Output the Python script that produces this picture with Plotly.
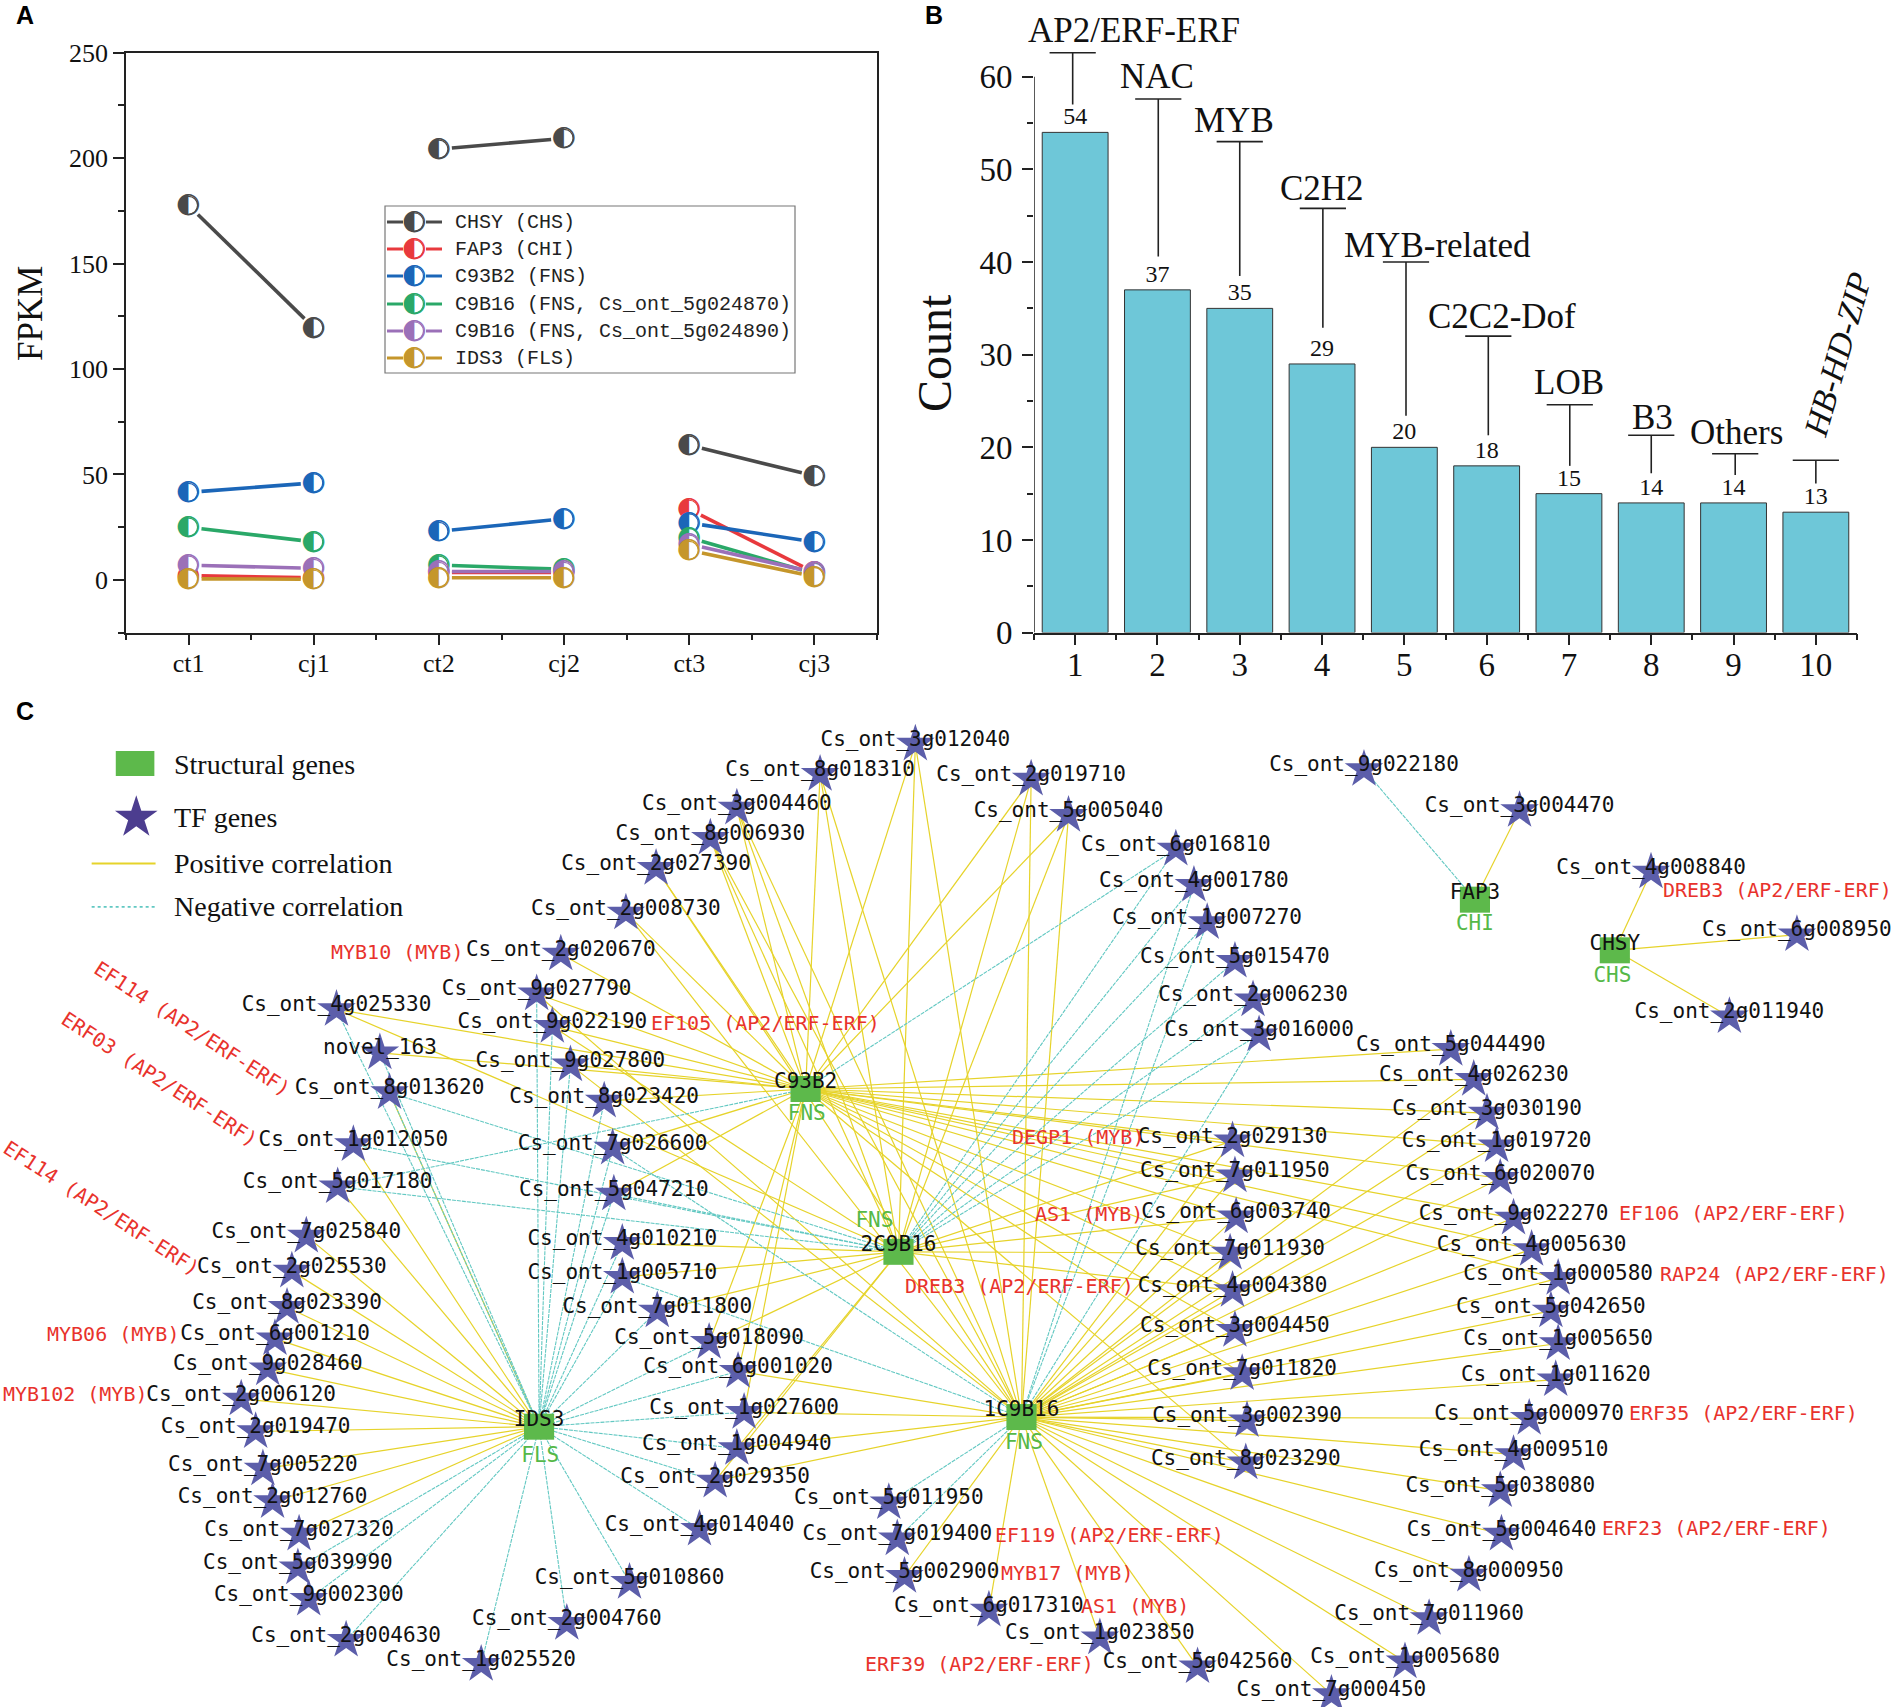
import plotly.graph_objects as go

W, H = 1891, 1707
S = W / 1568.0   # reference pixels per network unit

SERIF = "Liberation Serif"
MONO = "DejaVu Sans Mono"
LEGMONO = "Liberation Mono"

# ---------- Panel A data ----------
samples = ["ct1", "cj1", "ct2", "cj2", "ct3", "cj3"]
series_names = ["CHSY (CHS)", "FAP3 (CHI)", "C93B2 (FNS)", "C9B16 (FNS, Cs_ont_5g024870)",
                "C9B16 (FNS, Cs_ont_5g024890)", "IDS3 (FLS)"]
series_colors = ["#4a4a4a", "#e8393d", "#1b66b8", "#2aa868", "#9b70b8", "#c5962b"]
chsy = [177.6, 119.6, 204.3, 209.4, 63.9, 49.3]
fap3 = [2.0, 1.0, 3.5, 3.5, 33.5, 3.5]
c93b2 = [41.5, 46.0, 23.0, 29.0, 27.0, 18.0]
c9b16a = [25.0, 18.0, 7.0, 5.0, 20.0, 3.0]
c9b16b = [7.0, 5.5, 4.0, 4.0, 17.0, 3.5]
ids3 = [0.5, 0.3, 1.0, 1.0, 14.0, 1.5]
series_vals = [chsy, fap3, c93b2, c9b16a, c9b16b, ids3]

# ---------- Panel B data ----------
tf_rank = [1, 2, 3, 4, 5, 6, 7, 8, 9, 10]
tf_count = [54, 37, 35, 29, 20, 18, 15, 14, 14, 13]
tf_family = ["AP2/ERF-ERF", "NAC", "MYB", "C2H2", "MYB-related", "C2C2-Dof", "LOB", "B3", "Others", "HB-HD-ZIP"]
whisk_x = [0.97, 2.01, 3.0, 4.01, 5.02, 6.02, 7.01, 8.0, 9.02, 10.0]
whisk_top = [62.6, 57.6, 53.0, 45.8, 40.0, 32.0, 24.6, 21.3, 19.3, 18.6]
whisk_bot = [57.0, 40.6, 38.5, 32.9, 23.4, 21.3, 18.0, 17.2, 17.0, 16.1]
family_px = [(1134, 30), (1157, 76), (1234, 120), (1322, 188), (1437, 245), (1502, 316),
             (1569, 382), (1652, 417), (1736, 432), (1837, 355)]

# ---------- Panel C data ----------
hub_names = ["C93B2", "2C9B16", "1C9B16", "IDS3", "FAP3", "CHSY"]
hub_codes = ["C", "2", "1", "I", "F", "H"]
hub_x = [668, 745, 847, 447, 1223, 1339]
hub_y = [903, 1038, 1175, 1183, 746, 788]
hub_cls = ["FNS", "FNS", "FNS", "FLS", "CHI", "CHS"]
hub_cls_x = [669, 725, 849, 448, 1223, 1337]
hub_cls_y = [924, 1013, 1197, 1208, 767, 810]

tf_nodes = [
 ("Cs_ont_3g012040", 759, 617, "C+ 2+ 1+"), ("Cs_ont_8g018310", 680, 642, "C+ 2+ 1+"),
 ("Cs_ont_3g004460", 611, 670, "C+ 2+ 1+"), ("Cs_ont_8g006930", 589, 695, "C+ 2+ 1+"),
 ("Cs_ont_2g027390", 544, 720, "C+ 1+"), ("Cs_ont_2g008730", 519, 757, "C+ 1+"),
 ("Cs_ont_2g020670", 465, 791, "C+"), ("Cs_ont_9g027790", 445, 824, "C+ 1+ I-"),
 ("Cs_ont_9g022190", 458, 851, "C+ 2+ I-"), ("Cs_ont_9g027800", 473, 883, "C+ 1+ I-"),
 ("Cs_ont_8g023420", 501, 913, "C+ I-"), ("Cs_ont_4g025330", 279, 837, "C+ 2+ I-"),
 ("novel_163", 315, 873, "C+ I-"), ("Cs_ont_8g013620", 323, 906, "2- I- I+"),
 ("Cs_ont_1g012050", 293, 949, "2- I+"), ("Cs_ont_5g017180", 280, 984, "C- 2- I+"),
 ("Cs_ont_7g026600", 508, 952, "C+ 1- I-"), ("Cs_ont_5g047210", 509, 990, "C+ 2- I-"),
 ("Cs_ont_4g010210", 516, 1031, "2+ I-"), ("Cs_ont_1g005710", 516, 1059, "2+ 1- I-"),
 ("Cs_ont_7g011800", 545, 1087, "2+ I-"), ("Cs_ont_5g018090", 588, 1113, "C+ 2+ I-"),
 ("Cs_ont_6g001020", 612, 1137, "C+ 1+ I-"), ("Cs_ont_1g027600", 617, 1171, "C+ 1+ I-"),
 ("Cs_ont_1g004940", 611, 1201, "2+ 1+ I-"), ("Cs_ont_2g029350", 593, 1228, "2+ 1+ I-"),
 ("Cs_ont_4g014040", 580, 1268, "I-"), ("Cs_ont_5g010860", 522, 1312, "I-"),
 ("Cs_ont_2g004760", 470, 1346, "I-"), ("Cs_ont_1g025520", 399, 1380, "I-"),
 ("Cs_ont_2g004630", 287, 1360, "I-"), ("Cs_ont_9g002300", 256, 1326, "I-"),
 ("Cs_ont_5g039990", 247, 1300, "I-"), ("Cs_ont_7g027320", 248, 1272, "I+"),
 ("Cs_ont_2g012760", 226, 1245, "I+"), ("Cs_ont_7g005220", 218, 1218, "I+"),
 ("Cs_ont_2g019470", 212, 1187, "I+"), ("Cs_ont_2g006120", 200, 1160, "I+"),
 ("Cs_ont_9g028460", 222, 1135, "I+"), ("Cs_ont_6g001210", 228, 1110, "I+"),
 ("Cs_ont_8g023390", 238, 1084, "I+"), ("Cs_ont_2g025530", 242, 1054, "I+"),
 ("Cs_ont_7g025840", 254, 1025, "I+"),
 ("Cs_ont_2g019710", 855, 646, "C+ 2+ 1+"), ("Cs_ont_5g005040", 886, 676, "C+ 2+ 1+"),
 ("Cs_ont_6g016810", 975, 704, "C- 2-"), ("Cs_ont_4g001780", 990, 734, "2- 1-"),
 ("Cs_ont_1g007270", 1001, 765, "2- 1-"), ("Cs_ont_5g015470", 1024, 797, "2-"),
 ("Cs_ont_2g006230", 1039, 829, "2-"), ("Cs_ont_3g016000", 1044, 858, "2- 1-"),
 ("Cs_ont_5g044490", 1203, 870, "C+"), ("Cs_ont_4g026230", 1222, 895, "C+ 1+"),
 ("Cs_ont_3g030190", 1233, 923, "C+ 1+"), ("Cs_ont_1g019720", 1241, 950, "C+ 1+"),
 ("Cs_ont_6g020070", 1244, 977, "C+ 1+"), ("Cs_ont_9g022270", 1255, 1010, "C+ 1+"),
 ("Cs_ont_4g005630", 1270, 1036, "C+ 1+"), ("Cs_ont_1g000580", 1292, 1060, "C+ 1+"),
 ("Cs_ont_5g042650", 1286, 1087, "1+"), ("Cs_ont_1g005650", 1292, 1114, "1+"),
 ("Cs_ont_1g011620", 1290, 1144, "1+"), ("Cs_ont_5g000970", 1268, 1176, "1+"),
 ("Cs_ont_4g009510", 1255, 1206, "1+"), ("Cs_ont_5g038080", 1244, 1236, "1+"),
 ("Cs_ont_5g004640", 1245, 1272, "1+"), ("Cs_ont_8g000950", 1218, 1306, "1+"),
 ("Cs_ont_7g011960", 1185, 1342, "1+"), ("Cs_ont_1g005680", 1165, 1378, "1+"),
 ("Cs_ont_7g000450", 1104, 1405, "1+"), ("Cs_ont_5g042560", 993, 1382, "1+"),
 ("Cs_ont_1g023850", 912, 1358, "1+"), ("Cs_ont_6g017310", 820, 1335, "1+"),
 ("Cs_ont_5g002900", 750, 1307, "1+"), ("Cs_ont_7g019400", 744, 1276, "1-"),
 ("Cs_ont_5g011950", 737, 1246, "1-"),
 ("Cs_ont_2g029130", 1022, 946, "C+ 2+ 1+"), ("Cs_ont_7g011950", 1024, 975, "C+ 2+ 1+"),
 ("Cs_ont_6g003740", 1025, 1009, "C+ 2+ 1+"), ("Cs_ont_7g011930", 1020, 1039, "C+ 2+ 1+"),
 ("Cs_ont_4g004380", 1022, 1070, "C+ 2+ 1+"), ("Cs_ont_3g004450", 1024, 1103, "C+ 1+"),
 ("Cs_ont_7g011820", 1030, 1139, "C+ 1+"), ("Cs_ont_3g002390", 1034, 1178, "1+"),
 ("Cs_ont_8g023290", 1033, 1213, "C+ 1+"),
 ("Cs_ont_9g022180", 1131, 638, "F-"), ("Cs_ont_3g004470", 1260, 672, "F+"),
 ("Cs_ont_4g008840", 1369, 723, "H+"), ("Cs_ont_6g008950", 1490, 775, "H+"),
 ("Cs_ont_2g011940", 1434, 843, "H+"),
]

red_labels = [
 ("MYB10 (MYB)", 329, 789, 0), ("EF105 (AP2/ERF-ERF)", 635, 848, 0),
 ("EF114 (AP2/ERF-ERF)", 160, 853, 33), ("ERF03 (AP2/ERF-ERF)", 132, 895, 33),
 ("EF114 (AP2/ERF-ERF)", 84, 1002, 33), ("MYB06 (MYB)", 94, 1106, 0),
 ("MYB102 (MYB)", 63, 1156, 0), ("DEGP1 (MYB)", 894, 943, 0), ("AS1 (MYB)", 903, 1007, 0),
 ("DREB3 (AP2/ERF-ERF)", 845, 1066, 0), ("DREB3 (AP2/ERF-ERF)", 1474, 738, 0),
 ("EF106 (AP2/ERF-ERF)", 1437, 1006, 0), ("RAP24 (AP2/ERF-ERF)", 1471, 1056, 0),
 ("ERF35 (AP2/ERF-ERF)", 1446, 1172, 0), ("ERF23 (AP2/ERF-ERF)", 1423, 1267, 0),
 ("EF119 (AP2/ERF-ERF)", 920, 1273, 0), ("MYB17 (MYB)", 885, 1304, 0),
 ("AS1 (MYB)", 941, 1332, 0), ("ERF39 (AP2/ERF-ERF)", 812, 1380, 0),
]

legend_c_labels = ["Structural genes", "TF genes", "Positive correlation", "Negative correlation"]
legend_c_y = [634, 678, 716, 752]

YEL = "#e6d32a"
TEAL = "#62c8c2"
GREEN = "#5db94b"
STAR = "#5c5eaa"
RED = "#e8322c"

fig = go.Figure()
ov = dict(xaxis="x3", yaxis="y3", showlegend=False, hoverinfo="skip")
pa = dict(xaxis="x", yaxis="y", showlegend=False, hoverinfo="skip")
pb = dict(xaxis="x2", yaxis="y2", showlegend=False, hoverinfo="skip")

# ---------- Panel A ----------
AX0, AX1, AY0, AY1 = 126, 877, 632.6, 52.7
px_per_x = (AX1 - AX0) / 6.0
px_per_y = (AY0 - AY1) / 275.0
GAP = 13.0
for vals, col in zip(series_vals, series_colors):
    lx, ly = [], []
    for i in (0, 2, 4):
        dx = px_per_x
        dy = (vals[i + 1] - vals[i]) * px_per_y
        L = (dx * dx + dy * dy) ** 0.5
        f = GAP / L
        lx += [i + 1 + f, i + 2 - f, None]
        ly += [vals[i] + (vals[i + 1] - vals[i]) * f, vals[i + 1] - (vals[i + 1] - vals[i]) * f, None]
    fig.add_trace(go.Scatter(x=lx, y=ly, mode="lines", line=dict(color=col, width=3.6), **pa))
    fig.add_trace(go.Scatter(x=list(range(1, 7)), y=vals, mode="markers+text", text=["◐"] * 6,
                             textposition="middle center",
                             textfont=dict(family="DejaVu Sans", size=28, color=col),
                             marker=dict(symbol="circle", size=18, color="white", line=dict(color=col, width=1.2)),
                             cliponaxis=False, **pa))

# ---------- Panel B ----------
BY_PER = 555.8 / 60.0
BYMAX = 66.0
BTOP = 632.6 - BYMAX * BY_PER
fig.add_trace(go.Bar(x=tf_rank, y=tf_count, width=0.8, marker=dict(color="#6ec7d8", line=dict(color="#333333", width=1)),
                     text=[str(v) for v in tf_count], textposition="outside", cliponaxis=False,
                     textfont=dict(family=SERIF, size=24, color="#111111"), **pb))
wx, wy = [], []
for x, t, b in zip(whisk_x, whisk_top, whisk_bot):
    wx += [x, x, None]
    wy += [t, b, None]
fig.add_trace(go.Scatter(x=wx, y=wy, mode="lines", line=dict(color="#222222", width=1.6), cliponaxis=False, **pb))
fig.add_trace(go.Scatter(x=whisk_x, y=whisk_top, mode="markers", cliponaxis=False,
                         marker=dict(symbol="line-ew", size=33, line=dict(color="#222222", width=1.6)), **pb))
fig.add_trace(go.Scatter(x=[0.5, 0.5], y=[0, 60], mode="lines", line=dict(color="#222222", width=1.5), cliponaxis=False, **pb))

# ---------- Panel C edges ----------
hub_pos = {c: (x, y) for c, x, y in zip(hub_codes, hub_x, hub_y)}
ex = {"+": [], "-": []}
ey = {"+": [], "-": []}
for name, x, y, links in tf_nodes:
    for tok in links.split():
        hx, hy = hub_pos[tok[0]]
        ex[tok[1]] += [x, hx, None]
        ey[tok[1]] += [y, hy, None]
fig.add_trace(go.Scatter(x=ex["+"], y=ey["+"], mode="lines", line=dict(color=YEL, width=1.2), **ov))
fig.add_trace(go.Scatter(x=ex["-"], y=ey["-"], mode="lines", line=dict(color=TEAL, width=1.1, dash="4px,1px"), **ov))

# stars
fig.add_trace(go.Scatter(x=[n[1] for n in tf_nodes], y=[n[2] for n in tf_nodes], mode="markers",
                         marker=dict(symbol="star", size=29, color=STAR, line=dict(width=0)), **ov))
# hubs
for hx, hy in zip(hub_x, hub_y):
    fig.add_trace(go.Scatter(x=[hx - 12.5, hx + 12.5], y=[hy, hy], mode="lines",
                             line=dict(color=GREEN, width=26), **ov))
# node labels
fig.add_trace(go.Scatter(x=[n[1] for n in tf_nodes], y=[n[2] - 3 for n in tf_nodes], mode="text",
                         text=[n[0] for n in tf_nodes], textposition="middle center",
                         textfont=dict(family=MONO, size=21, color="#111111"), **ov))
fig.add_trace(go.Scatter(x=hub_x, y=[y - 5 for y in hub_y], mode="text", text=hub_names,
                         textposition="middle center", textfont=dict(family=MONO, size=21, color="#111111"), **ov))
fig.add_trace(go.Scatter(x=hub_cls_x, y=hub_cls_y, mode="text", text=hub_cls,
                         textposition="middle center", textfont=dict(family=MONO, size=21, color="#55b848"), **ov))

# legend of panel C
fig.add_trace(go.Scatter(x=[96, 128], y=[633, 633], mode="lines", line=dict(color=GREEN, width=25), **ov))
fig.add_trace(go.Scatter(x=[113], y=[678], mode="markers",
                         marker=dict(symbol="star", size=32, color="#4c3d8f", line=dict(width=0)), **ov))
fig.add_trace(go.Scatter(x=[76, 129], y=[716, 716], mode="lines", line=dict(color=YEL, width=2), **ov))
fig.add_trace(go.Scatter(x=[76, 129], y=[752, 752], mode="lines", line=dict(color=TEAL, width=1.6, dash="dot"), **ov))

# legend of panel A
LEG_Y = [222, 249, 276, 304, 331, 358]
for ly, col in zip(LEG_Y, series_colors):
    for a, b in ((387, 403), (426, 442)):
        fig.add_trace(go.Scatter(x=[a / S, b / S], y=[ly / S, ly / S], mode="lines",
                                 line=dict(color=col, width=3), **ov))
    fig.add_trace(go.Scatter(x=[414.5 / S], y=[ly / S], mode="markers+text", text=["◐"],
                             textposition="middle center",
                             textfont=dict(family="DejaVu Sans", size=28, color=col),
                             marker=dict(symbol="circle", size=18, color="white", line=dict(color=col, width=1.2)), **ov))

ann = []
def T(x, y, s, size, color="#111111", family=MONO, angle=0, anchor="center", ref="x3", bold=False):
    ann.append(dict(x=x, y=y, xref=ref, yref="y3", text=("<b>%s</b>" % s) if bold else s, showarrow=False,
                    xanchor=anchor, yanchor="middle", textangle=angle,
                    font=dict(family=family, size=size, color=color)))

for s, x, y, a in red_labels:
    T(x, y, s, 20, RED, MONO, a)
for s, y in zip(legend_c_labels, legend_c_y):
    T(143, y, s, 28, "#111111", SERIF, 0, "left")
for s, ly in zip(series_names, LEG_Y):
    T(453 / S, ly / S, s, 20, "#222222", LEGMONO, 0, "left")
T(25 / S, 15 / S, "A", 25, "#000000", "Liberation Sans", bold=True)
T(934 / S, 15 / S, "B", 25, "#000000", "Liberation Sans", bold=True)
T(25 / S, 711 / S, "C", 25, "#000000", "Liberation Sans", bold=True)
T(30 / S, 314 / S, "FPKM", 35, "#111111", SERIF, -90)
T(934 / S, 353 / S, "Count", 48, "#111111", SERIF, -90)
for s, (px, py) in zip(tf_family, family_px):
    if s == "HB-HD-ZIP":
        T(px / S, py / S, "<i>%s</i>" % s, 34, "#111111", SERIF, -74)
    else:
        T(px / S, py / S, s, 35, "#111111", SERIF)

tick_font = dict(family=SERIF, size=26, color="#111111")
b_tick_font = dict(family=SERIF, size=33, color="#111111")
layout = dict(
    template="none",
    width=W, height=H, margin=dict(l=0, r=0, t=0, b=0), autosize=False,
    paper_bgcolor="white", plot_bgcolor="rgba(0,0,0,0)", showlegend=False, annotations=ann,
    shapes=[dict(type="rect", xref="x3", yref="y3", x0=385 / S, x1=795 / S, y0=206 / S, y1=373 / S,
                 line=dict(color="#777777", width=1.2), fillcolor="rgba(0,0,0,0)", layer="above")],
    xaxis=dict(domain=[AX0 / W, AX1 / W], range=[0.5, 6.5], tickvals=list(range(1, 7)), ticktext=samples, automargin=False,
               ticks="outside", ticklen=11, tickwidth=1.5, tickcolor="#222", tickfont=tick_font, ticklabelstandoff=-5,
               showline=True, linecolor="#222", linewidth=1.5, mirror=True, showgrid=False, zeroline=False,
               minor=dict(tickvals=[0.5, 1.5, 2.5, 3.5, 4.5, 5.5, 6.5], ticks="outside", ticklen=6, tickwidth=1.5, tickcolor="#222", showgrid=False)),
    yaxis=dict(domain=[1 - AY0 / H, 1 - AY1 / H], range=[-25, 250], tickvals=[0, 50, 100, 150, 200, 250], automargin=False,
               ticks="outside", ticklen=11, tickwidth=1.5, tickcolor="#222", tickfont=tick_font,
               showline=True, linecolor="#222", linewidth=1.5, mirror=True, showgrid=False, zeroline=False,
               minor=dict(tickvals=[25, 75, 125, 175, 225, -25], ticks="outside", ticklen=6, tickwidth=1.5, tickcolor="#222", showgrid=False)),
    xaxis2=dict(domain=[1034 / W, 1857 / W], range=[0.5, 10.5], anchor="y2", tickvals=tf_rank, automargin=False,
                ticks="outside", ticklen=11, tickwidth=1.5, tickcolor="#222", ticklabelstandoff=-9,
                tickfont=b_tick_font,
                showline=True, linecolor="#222", linewidth=1.5, showgrid=False, zeroline=False,
                minor=dict(tickvals=[i + 0.5 for i in range(0, 11)], ticks="outside", ticklen=6, tickwidth=1.5, tickcolor="#222", showgrid=False)),
    yaxis2=dict(domain=[1 - 632.6 / H, 1 - BTOP / H], range=[0, BYMAX], anchor="x2", tickvals=[0, 10, 20, 30, 40, 50, 60], automargin=False,
                ticks="outside", ticklen=11, tickwidth=1.5, tickcolor="#222", ticklabelstandoff=3,
                tickfont=b_tick_font,
                showline=False, showgrid=False, zeroline=False,
                minor=dict(tickvals=[5, 15, 25, 35, 45, 55], ticks="outside", ticklen=6, tickwidth=1.5, tickcolor="#222", showgrid=False)),
    xaxis3=dict(domain=[0, 1], range=[0, W / S], visible=False, anchor="y3", automargin=False),
    yaxis3=dict(domain=[0, 1], range=[H / S, 0], visible=False, anchor="x3", automargin=False),
)
fig.update_layout(**layout)
fig.write_html("out.html", config=dict(displayModeBar=False),
               post_script="document.body.style.margin='0';document.body.style.overflow='hidden';")
